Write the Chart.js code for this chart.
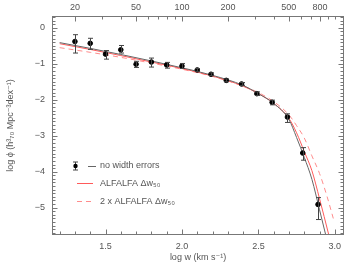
<!DOCTYPE html>
<html>
<head>
<meta charset="utf-8">
<script src="https://cdn.jsdelivr.net/npm/chart.js@4"></script>
<style>
  body { margin: 0; background: #fff; }
  #wrap { width: 360px; height: 270px; }
</style>
</head>
<body>
<div id="wrap"><canvas id="lf"></canvas></div>
<script>
// measured points
const logW = [1.30, 1.40, 1.50, 1.60, 1.70, 1.80, 1.90, 2.00, 2.10, 2.19, 2.29, 2.39, 2.49, 2.59, 2.69, 2.79, 2.89];
const logPhi = [-0.38, -0.43, -0.73, -0.61, -1.01, -0.95, -1.03, -1.06, -1.17, -1.29, -1.46, -1.56, -1.83, -2.07, -2.48, -3.48, -4.91];
const errUp = [0.19, 0.14, 0.10, 0.12, 0.08, 0.11, 0.07, 0.07, 0.04, 0.04, 0.04, 0.04, 0.05, 0.06, 0.09, 0.15, 0.19];
const errDown = [0.32, 0.17, 0.14, 0.09, 0.09, 0.14, 0.09, 0.07, 0.04, 0.04, 0.04, 0.04, 0.05, 0.07, 0.15, 0.20, 0.42];

// fitted curves
const noErrX = [1.2, 1.4, 1.6, 1.8, 2.0, 2.2, 2.4, 2.5, 2.6, 2.7, 2.75, 2.8, 2.85, 2.9, 2.94];
const noErrY = [-0.41, -0.57, -0.74, -0.92, -1.11, -1.32, -1.60, -1.83, -2.10, -2.55, -3.05, -3.60, -4.21, -5.06, -5.75];
const alfX = [1.2, 1.4, 1.6, 1.8, 2.0, 2.2, 2.4, 2.5, 2.6, 2.7, 2.75, 2.8, 2.85, 2.9, 2.96];
const alfY = [-0.44, -0.60, -0.77, -0.95, -1.13, -1.34, -1.62, -1.83, -2.10, -2.52, -2.92, -3.44, -3.97, -4.75, -5.75];
const alf2X = [1.2, 1.4, 1.6, 1.8, 2.0, 2.2, 2.4, 2.5, 2.6, 2.7, 2.75, 2.8, 2.85, 2.9, 2.95, 2.99];
const alf2Y = [-0.55, -0.68, -0.82, -0.98, -1.15, -1.35, -1.62, -1.80, -2.05, -2.42, -2.72, -3.06, -3.56, -4.05, -4.70, -5.30];

// axis ticks
const xTicks = [1.5, 2.0, 2.5, 3.0];
const yTicks = [-5, -4, -3, -2, -1, 0];
const topLabels = [20, 50, 100, 200, 500, 800];
const topMinor = [30, 40, 60, 70, 80, 90, 300, 400, 600, 700, 900, 1000];
const legendLabels = ['no width errors', 'ALFALFA \u0394w\u2085\u2080', '2 x ALFALFA \u0394w\u2085\u2080'];

const axisCol = '#777';
const textCol = '#555';
const font = { family: 'Liberation Sans, DejaVu Sans, sans-serif', size: 9 };

function pts(xs, ys) {
  return xs.map((x, i) => ({ x: x, y: ys[i] }));
}

const errorBars = {
  id: 'errorBars',
  afterDatasetsDraw(chart) {
    const ctx = chart.ctx;
    const xs = chart.scales.x, ys = chart.scales.y;
    ctx.save();
    ctx.strokeStyle = '#444';
    ctx.lineWidth = 1;
    logW.forEach((w, i) => {
      const px = Math.round(xs.getPixelForValue(w)) + 0.5;
      const top = ys.getPixelForValue(logPhi[i] + errUp[i]);
      const bot = ys.getPixelForValue(logPhi[i] - errDown[i]);
      ctx.beginPath();
      ctx.moveTo(px, top); ctx.lineTo(px, bot);
      ctx.moveTo(px - 2.5, top); ctx.lineTo(px + 2.5, top);
      ctx.moveTo(px - 2.5, bot); ctx.lineTo(px + 2.5, bot);
      ctx.stroke();
    });
    ctx.restore();
  }
};

const frame = {
  id: 'frame',
  afterDraw(chart) {
    const ctx = chart.ctx, a = chart.chartArea;
    const xs = chart.scales.x, ys = chart.scales.y;
    const L = a.left + 0.5, R = a.right - 0.5, T = a.top + 0.5, B = a.bottom - 0.5;
    ctx.save();
    ctx.strokeStyle = axisCol;
    ctx.lineWidth = 1;
    ctx.strokeRect(L, T, R - L, B - T);
    ctx.beginPath();
    // bottom axis, minor every 0.1
    for (let v = 1.2; v <= 3.001; v += 0.1) {
      const p = Math.round(xs.getPixelForValue(v)) + 0.5;
      const major = xTicks.some(t => Math.abs(t - v) < 1e-6);
      const len = major ? 5 : 3;
      ctx.moveTo(p, B); ctx.lineTo(p, B - len);
    }
    // top axis in w
    topLabels.concat(topMinor).forEach(w => {
      const p = Math.round(xs.getPixelForValue(Math.log10(w))) + 0.5;
      const len = topLabels.includes(w) ? 5 : 3;
      ctx.moveTo(p, T); ctx.lineTo(p, T + len);
    });
    // left and right, minor every 0.1
    for (let v = -5.7; v <= 0.3001; v += 0.1) {
      const p = Math.round(ys.getPixelForValue(v)) + 0.5;
      const major = yTicks.some(t => Math.abs(t - v) < 1e-6);
      const len = major ? 5 : 3;
      ctx.moveTo(L, p); ctx.lineTo(L + len, p);
      ctx.moveTo(R, p); ctx.lineTo(R - len, p);
    }
    ctx.stroke();

    // legend
    const lx = a.left, ly = a.top;
    ctx.font = '9px ' + font.family;
    ctx.fillStyle = textCol;
    ctx.textBaseline = 'middle';
    ctx.textAlign = 'left';
    // item 1: point with error bar and grey line
    let y1 = ly + 150;
    ctx.strokeStyle = '#444';
    ctx.beginPath();
    ctx.moveTo(lx + 23.5, y1 - 4); ctx.lineTo(lx + 23.5, y1 + 4);
    ctx.moveTo(lx + 21, y1 - 4); ctx.lineTo(lx + 26, y1 - 4);
    ctx.moveTo(lx + 21, y1 + 4); ctx.lineTo(lx + 26, y1 + 4);
    ctx.stroke();
    ctx.fillStyle = '#000';
    ctx.beginPath(); ctx.arc(lx + 23.5, y1, 2.2, 0, Math.PI * 2); ctx.fill();
    ctx.strokeStyle = '#666';
    ctx.beginPath(); ctx.moveTo(lx + 36, y1 + 0.5); ctx.lineTo(lx + 44, y1 + 0.5); ctx.stroke();
    ctx.fillStyle = textCol;
    ctx.fillText(legendLabels[0], lx + 48, y1);
    // item 2: solid red
    let y2 = ly + 167.5;
    ctx.strokeStyle = '#ff5a5a';
    ctx.beginPath(); ctx.moveTo(lx + 25, y2); ctx.lineTo(lx + 41, y2); ctx.stroke();
    ctx.fillText(legendLabels[1], lx + 48, y2);
    // item 3: dashed red
    let y3 = ly + 185.5;
    ctx.strokeStyle = '#ff8c8c';
    ctx.setLineDash([5, 4]);
    ctx.beginPath(); ctx.moveTo(lx + 25, y3); ctx.lineTo(lx + 41, y3); ctx.stroke();
    ctx.setLineDash([]);
    ctx.fillText(legendLabels[2], lx + 48, y3);
    ctx.restore();
  }
};

new Chart(document.getElementById('lf'), {
  type: 'scatter',
  data: {
    datasets: [
      {
        label: 'no width errors',
        data: pts(logW, logPhi),
        backgroundColor: '#000',
        borderColor: '#000',
        pointRadius: 2.3,
        order: 0
      },
      {
        type: 'line',
        label: 'no width errors fit',
        data: pts(noErrX, noErrY),
        borderColor: '#666',
        borderWidth: 1,
        pointRadius: 0,
        cubicInterpolationMode: 'monotone',
        order: 1
      },
      {
        type: 'line',
        label: 'ALFALFA',
        data: pts(alfX, alfY),
        borderColor: '#ff5a5a',
        borderWidth: 1,
        pointRadius: 0,
        cubicInterpolationMode: 'monotone',
        order: 2
      },
      {
        type: 'line',
        label: '2 x ALFALFA',
        data: pts(alf2X, alf2Y),
        borderColor: '#ff8c8c',
        borderWidth: 1,
        borderDash: [5, 4],
        pointRadius: 0,
        cubicInterpolationMode: 'monotone',
        order: 3
      }
    ]
  },
  options: {
    responsive: true,
    maintainAspectRatio: false,
    animation: false,
    layout: { padding: { left: 0, right: 16, top: 0, bottom: 0 } },
    plugins: { legend: { display: false }, tooltip: { enabled: false } },
    scales: {
      x: {
        type: 'linear',
        min: 1.15, max: 3.06,
        afterBuildTicks: s => { s.ticks = xTicks.map(v => ({ value: v })); },
        afterFit: s => { s.height = 35; },
        grid: { display: false, drawTicks: false },
        border: { display: false },
        ticks: { color: textCol, font: font, padding: 6, maxRotation: 0, callback: v => v.toFixed(1) },
        title: {
          display: true, text: 'log w (km s\u207B\u00B9)', color: textCol, font: font,
          padding: { top: 0, bottom: 7 }
        }
      },
      x2: {
        type: 'linear',
        position: 'top',
        min: 1.15, max: 3.06,
        afterBuildTicks: s => { s.ticks = topLabels.map(w => ({ value: Math.log10(w) })); },
        afterFit: s => { s.height = 16; },
        grid: { display: false, drawTicks: false },
        border: { display: false },
        ticks: { color: textCol, font: font, padding: 3, maxRotation: 0, autoSkip: false, callback: v => String(Math.round(Math.pow(10, v))) }
      },
      y: {
        type: 'linear',
        min: -5.76, max: 0.33,
        afterBuildTicks: s => { s.ticks = yTicks.map(v => ({ value: v })); },
        afterFit: s => { s.width = 52; },
        grid: { display: false, drawTicks: false },
        border: { display: false },
        ticks: { color: textCol, font: font, padding: 7, callback: v => v < 0 ? '\u2212' + Math.abs(v) : String(v) },
        title: {
          display: true, text: 'log \u03D5 (h\u00B3\u2087\u2080 Mpc\u207B\u00B3dex\u207B\u00B9)', color: textCol, font: font,
          padding: { top: 5, bottom: 0 }
        }
      }
    }
  },
  plugins: [errorBars, frame]
});
</script>
</body>
</html>
